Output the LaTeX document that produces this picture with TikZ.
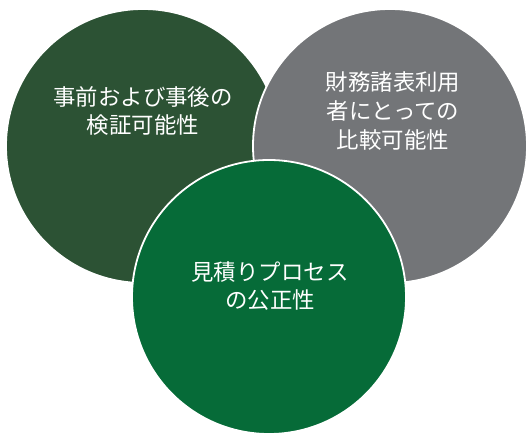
\documentclass[tikz,border=0pt]{standalone}
\usepackage{fontspec}
\setmainfont{Noto Sans CJK JP}
\definecolor{darkgreen}{HTML}{2C5234}
\definecolor{midgray}{HTML}{737578}
\definecolor{brightgreen}{HTML}{066B38}
\begin{document}
\begin{tikzpicture}[x=1bp,y=-1bp,
  bubble/.style={circle, draw=white, line width=1.8bp, minimum size=274bp, inner sep=0pt},
  label/.style={text=white, align=center, font=\fontsize{22.5}{29}\selectfont}]
\useasboundingbox (0,0) rectangle (527,433);
\node[bubble, fill=darkgreen] (c1) at (143,146) {};
\node[bubble, fill=midgray] (c2) at (390,146) {};
\node[bubble, fill=brightgreen] (c3) at (269,297) {};
\node[label] (t1) at (143,111) {事前および事後の\\検証可能性};
\node[label] (t2) at (393,111) {財務諸表利用\\者にとっての\\比較可能性};
\node[label] (t3) at (270,286) {見積りプロセス\\の公正性};
\end{tikzpicture}
\end{document}
